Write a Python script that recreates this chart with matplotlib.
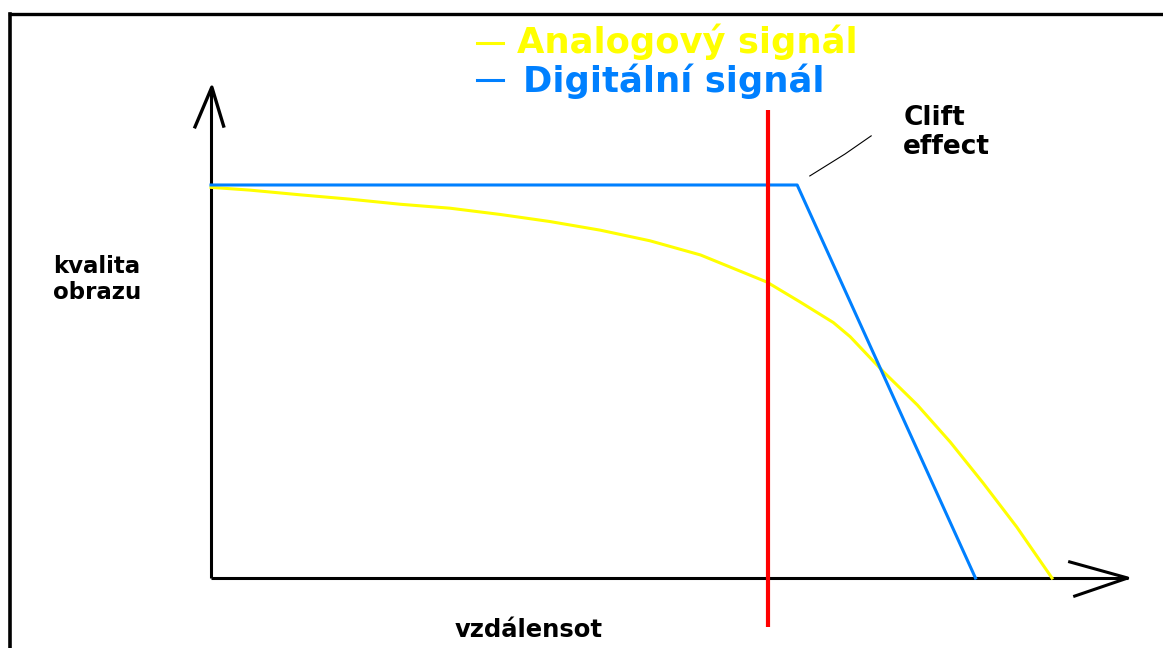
import matplotlib
matplotlib.use("Agg")
import matplotlib.pyplot as plt

# data (distance 0..100, quality 0..100)
analog_dist = [0, 4.6, 10.6, 16.5, 22.5, 28.4, 34.4, 40.3, 46.3, 52.2, 58.2,
               66.1, 70.0, 74.0, 76.0, 79.9, 84.0, 87.9, 91.8, 95.8, 100]
analog_quality = [99.4, 98.7, 97.5, 96.4, 95.1, 94.1, 92.5, 90.7, 88.5, 85.8, 82.2,
                  75.3, 70.3, 65.0, 61.4, 52.6, 44.0, 34.6, 24.2, 13.0, 0]

digital_dist = [0, 69.7, 90.9]
digital_quality = [100, 100, 0]

limit_dist = 66.2  # red line

legend_labels = ["Analogový signál", "Digitální signál"]
x_label = "vzdálensot"
y_label = ["kvalita", "obrazu"]
note = ["Clift", "effect"]

YELLOW = "#ffff00"
BLUE = "#0080ff"
RED = "#ff0000"

fig = plt.figure(figsize=(11.63, 6.48), dpi=100)
ax = fig.add_axes([0, 0, 1, 1])
ax.set_xlim(-25.09, 113.2)
ax.set_ylim(-17.81, 147.07)
ax.axis("off")

# frame (top and left only, rest cropped)
ax.plot([0.0086, 1.0], [0.979, 0.979], color="black", lw=2.4, transform=ax.transAxes)
ax.plot([0.0086, 0.0086], [0.0, 0.979], color="black", lw=2.6, transform=ax.transAxes)

# hand drawn axes with arrows
ax.plot([0, 0], [0, 124.9], color="black", lw=2.2, solid_capstyle="butt")
ax.plot([-1.9, 0.1, 1.5], [114.8, 124.9, 115.0], color="black", lw=2.4)
ax.plot([0, 109.0], [0, 0], color="black", lw=2.2, solid_capstyle="butt")
ax.plot([102.1, 109.0, 102.7], [4.1, 0, -4.6], color="black", lw=2.2)

# signals
ax.plot(analog_dist, analog_quality, color=YELLOW, lw=2.2)
ax.plot(digital_dist, digital_quality, color=BLUE, lw=2.2)
ax.plot([limit_dist, limit_dist], [-12.5, 119], color=RED, lw=3, solid_capstyle="butt")

# legend drawn by hand
ax.plot([31.6, 34.7], [136.1, 136.1], color=YELLOW, lw=2.2)
ax.plot([31.6, 34.7], [126.7, 126.7], color=BLUE, lw=2.2)
ax.text(36.4, 133.6, legend_labels[0], color=YELLOW, fontsize=25.5, fontweight="bold",
        va="baseline", ha="left", family="DejaVu Sans")
ax.text(37.1, 123.7, legend_labels[1], color=BLUE, fontsize=25.5, fontweight="bold",
        va="baseline", ha="left", family="DejaVu Sans")

# cliff note
ax.plot([71.2, 75.4, 78.5], [102.3, 107.9, 112.5], color="black", lw=0.8)
ax.text(82.3, 115.3, note[0], fontsize=19, fontweight="bold", va="baseline", ha="left")
ax.text(82.3, 107.9, note[1], fontsize=19, fontweight="bold", va="baseline", ha="left")

# axis labels
ax.text(-18.8, 77.6, y_label[0], fontsize=16.5, fontweight="bold", va="baseline", ha="left")
ax.text(-18.8, 71.0, y_label[1], fontsize=16.5, fontweight="bold", va="baseline", ha="left")
ax.text(29.0, -15.0, x_label, fontsize=17.5, fontweight="bold", va="baseline", ha="left")

fig.savefig("out.png", dpi=100)
